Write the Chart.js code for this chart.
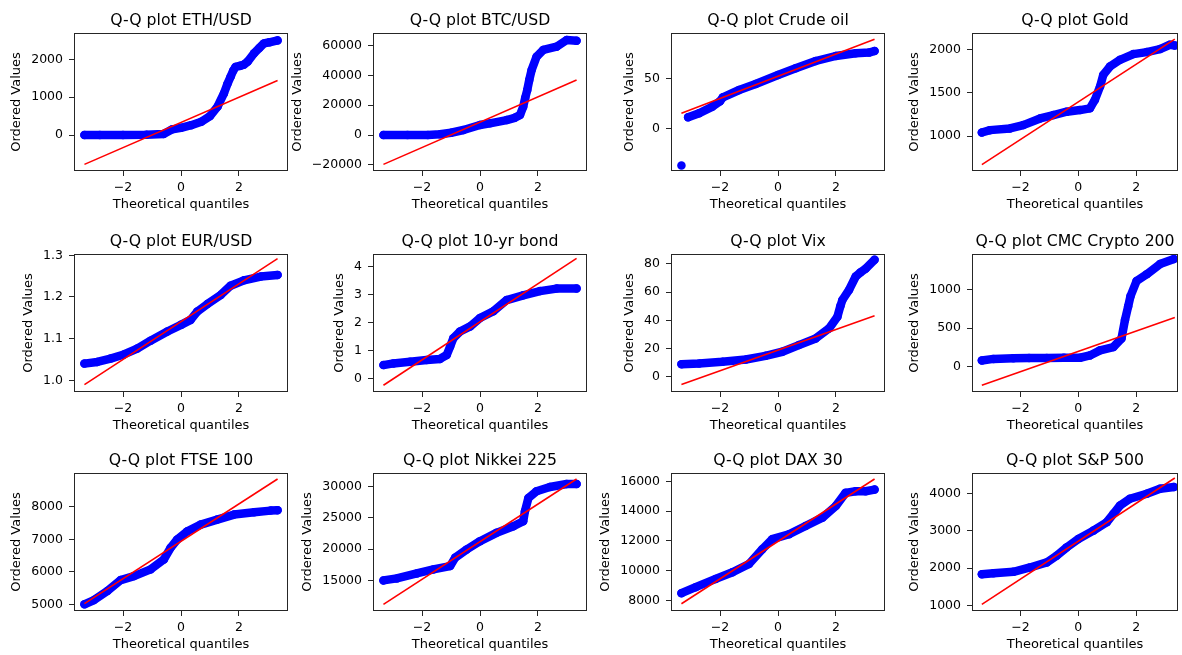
<!DOCTYPE html>
<html>
<head>
<meta charset="utf-8">
<title>Q-Q plots</title>
<script src="https://cdn.jsdelivr.net/npm/chart.js@4.4.1/dist/chart.umd.min.js"></script>
<style>
  html, body { margin: 0; padding: 0; background: #fff; }
  #fig { position: relative; width: 1182px; height: 655px; overflow: hidden; }
  #fig canvas { position: absolute; }
</style>
</head>
<body>
<div id="fig"></div>
<script>
// Titles, in grid order (row by row)
const names = ['ETH/USD', 'BTC/USD', 'Crude oil', 'Gold',
               'EUR/USD', '10-yr bond', 'Vix', 'CMC Crypto 200',
               'FTSE 100', 'Nikkei 225', 'DAX 30', 'S&P 500'];

// Theoretical quantiles (q) and ordered values (v)
const ethQ = [-3.33, -2.8, -2.0, -1.2, -0.6, -0.3, 0, 0.35, 0.7, 1.0, 1.26, 1.48, 1.6, 1.71, 1.8, 1.88, 2.05, 2.17, 2.3, 2.52, 2.7, 2.86, 3.05, 3.33];
const ethV = [0, 0, 0, 5, 30, 150, 190, 260, 350, 500, 750, 1100, 1350, 1540, 1700, 1800, 1830, 1860, 1940, 2160, 2300, 2420, 2450, 2500];

const btcQ = [-3.33, -2.5, -1.8, -1.38, -1.0, -0.57, 0, 0.34, 0.92, 1.2, 1.38, 1.49, 1.56, 1.63, 1.7, 1.78, 1.95, 2.18, 2.64, 2.99, 3.33];
const btcV = [0, 0, 0, 500, 1500, 3350, 6700, 7800, 10000, 11500, 13400, 19000, 25000, 30200, 37000, 43600, 52500, 57000, 59200, 63700, 63200];

const oilQ = [-3.33, -3.1, -2.72, -2.26, -2.0, -1.9, -1.34, -0.77, 0, 0.61, 1.3, 1.99, 2.68, 3.14, 3.33];
const oilV = [-37.3, 11, 15, 21.7, 27, 31, 38.3, 44.3, 53.3, 60, 67.3, 72.3, 75, 75.7, 77.3];

const goldQ = [-3.33, -3.05, -2.36, -1.9, -1.32, -0.86, -0.4, 0.06, 0.4, 0.57, 0.75, 0.86, 1.09, 1.44, 1.9, 2.36, 2.82, 3.16, 3.33];
const goldV = [1043, 1070, 1089, 1128, 1205, 1244, 1283, 1302, 1322, 1419, 1574, 1709, 1806, 1884, 1950, 1973, 2008, 2058, 2050];

const eurQ = [-3.33, -2.89, -2.43, -1.97, -1.51, -1.05, -0.47, 0, 0.33, 0.56, 0.91, 1.37, 1.71, 2.17, 2.75, 3.33];
const eurV = [1.040, 1.044, 1.052, 1.062, 1.076, 1.095, 1.117, 1.133, 1.145, 1.165, 1.183, 1.205, 1.227, 1.240, 1.249, 1.253];

const bondQ = [-3.33, -2.99, -2.41, -1.84, -1.38, -1.15, -1.03, -0.92, -0.69, -0.34, 0, 0.46, 0.92, 1.49, 2.07, 2.64, 3.33];
const bondV = [0.48, 0.54, 0.60, 0.66, 0.70, 0.84, 1.14, 1.44, 1.68, 1.86, 2.16, 2.40, 2.80, 2.97, 3.12, 3.21, 3.21];

const vixQ = [-3.33, -2.72, -1.92, -1.11, -0.43, 0.15, 0.72, 1.3, 1.76, 2.05, 2.15, 2.22, 2.45, 2.68, 2.85, 3.02, 3.33];
const vixV = [9.0, 9.5, 10.7, 12.3, 14.9, 17.8, 22.5, 27.2, 34.3, 42.6, 50, 54.4, 61.5, 71.0, 74, 76.4, 82.8];

const cmcQ = [-3.33, -2.93, -2.24, -1.7, -1.09, -0.5, 0.06, 0.4, 0.75, 1.21, 1.49, 1.61, 1.72, 1.8, 2.01, 2.36, 2.82, 3.3];
const cmcV = [80, 100, 110, 112, 112, 114, 115, 145, 211, 254, 364, 605, 781, 912, 1110, 1197, 1329, 1395];

const ftseQ = [-3.33, -3.0, -2.54, -2.08, -1.62, -1.05, -0.59, -0.36, -0.13, 0.22, 0.68, 1.25, 1.83, 2.52, 3.09, 3.33];
const ftseV = [5000, 5133, 5409, 5747, 5870, 6075, 6382, 6740, 6996, 7252, 7456, 7610, 7764, 7835, 7886, 7897];

const nikQ = [-3.33, -2.87, -2.18, -1.61, -1.03, -0.86, -0.46, 0, 0.57, 1.15, 1.49, 1.55, 1.67, 1.95, 2.41, 2.99, 3.33];
const nikV = [15000, 15318, 16113, 16749, 17279, 18604, 19929, 21254, 22579, 23639, 24434, 26024, 28144, 29204, 29893, 30370, 30370];

const daxQ = [-3.33, -2.84, -2.15, -1.57, -1.0, -0.54, -0.2, 0.38, 0.95, 1.53, 1.99, 2.33, 2.68, 3.02, 3.33];
const daxV = [8489, 8889, 9444, 9889, 10444, 11444, 12111, 12444, 13000, 13556, 14333, 15222, 15333, 15333, 15444];

const spxQ = [-3.33, -2.93, -2.24, -1.67, -1.09, -0.75, -0.4, 0, 0.52, 0.98, 1.21, 1.44, 1.78, 2.36, 2.82, 3.3];
const spxV = [1838, 1865, 1901, 2018, 2153, 2333, 2559, 2784, 3009, 3234, 3460, 3685, 3865, 4000, 4135, 4181];

// Fitted line: value at the first and last theoretical quantile
const fitQ = [-3.33, 3.33];
const fitV = [[-775, 1440], [-19700, 36900], [15, 89], [671, 2124],
              [0.9895, 1.292], [-0.24, 4.29], [-5.4, 43.3], [-241, 636],
              [5020, 8859], [11184, 31165], [7778, 16155], [1027, 4424]];

// Axis limits and tick labels
const yRanges = [[-950, 2695], [-24137, 68390], [-42.7, 95.3], [597, 2194],
                 [0.9718, 1.3032], [-0.48, 4.444], [-10.65, 86.9], [-329, 1460],
                 [4795, 9044], [10124, 32120], [7289, 16556], [847, 4559]];
const yTicks = [['0', '1000', '2000'], ['−20000', '0', '20000', '40000', '60000'], ['0', '50'], ['1000', '1500', '2000'],
                ['1.0', '1.1', '1.2', '1.3'], ['0', '1', '2', '3', '4'], ['0', '20', '40', '60', '80'], ['0', '500', '1000'],
                ['5000', '6000', '7000', '8000'], ['15000', '20000', '25000', '30000'], ['8000', '10000', '12000', '14000', '16000'], ['1000', '2000', '3000', '4000']];
const xTicks = ['−2', '0', '2'];
const xRanges = [[-3.69, 3.69], [-3.69, 3.69], [-3.69, 3.69], [-3.67, 3.44]];

const qs = [ethQ, btcQ, oilQ, goldQ, eurQ, bondQ, vixQ, cmcQ, ftseQ, nikQ, daxQ, spxQ];
const vs = [ethV, btcV, oilV, goldV, eurV, bondV, vixV, cmcV, ftseV, nikV, daxV, spxV];

// layout of the grid (page pixels)
const colLeft = [74, 373, 671, 972];
const colWidth = [214, 214, 214, 206];
const rowTop = [33, 254, 473];
const PLOT_H = 138;
const AXW = 90;      // room left of the plot box for tick labels + y title
const TOP = 33;      // title band
const BOTTOM = 46;   // x tick labels + x title
const RIGHT = 8;

const BLUE = '#0000ff';
const RED = '#ff0000';
const INK = '#262626';
const TICK_FONT = 12.5;

Chart.defaults.font.family = '"DejaVu Sans", sans-serif';
Chart.defaults.color = '#000';

const num = s => Number(s.replace('−', '-'));

// full box around the axes, like matplotlib spines
const frame = {
  id: 'frame',
  afterDatasetsDraw(chart) {
    const { ctx, chartArea: a } = chart;
    ctx.save();
    ctx.strokeStyle = INK;
    ctx.lineWidth = 1;
    ctx.strokeRect(Math.round(a.left) + 0.5, Math.round(a.top) + 0.5,
                   Math.round(a.width) - 1, Math.round(a.height) - 1);
    ctx.restore();
  }
};

const measure = document.createElement('canvas').getContext('2d');
measure.font = TICK_FONT + 'px "DejaVu Sans"';

const fig = document.getElementById('fig');

names.forEach((name, i) => {
  const row = Math.floor(i / 4), col = i % 4;
  const canvas = document.createElement('canvas');
  canvas.width = AXW + colWidth[col] + RIGHT;
  canvas.height = TOP + PLOT_H + BOTTOM;
  canvas.style.left = (colLeft[col] - AXW) + 'px';
  canvas.style.top = (rowTop[row] - TOP) + 'px';
  fig.appendChild(canvas);

  const labels = yTicks[i];
  const labelW = Math.max(...labels.map(t => measure.measureText(t).width));
  // ylabel sits just left of the widest tick label
  const yTitlePad = Math.max(0, AXW - 11 - labelW - 14.5 - 7.8);

  const points = qs[i].map((q, k) => ({ x: q, y: vs[i][k] }));

  new Chart(canvas, {
    type: 'scatter',
    data: {
      datasets: [
        {
          data: fitQ.map((q, k) => ({ x: q, y: fitV[i][k] })),
          showLine: true,
          borderColor: RED,
          borderWidth: 1.6,
          pointRadius: 0,
          order: 0
        },
        {
          data: points,
          showLine: true,
          borderColor: BLUE,
          borderWidth: 8.5,
          borderCapStyle: 'round',
          borderJoinStyle: 'round',
          pointRadius: 4.25,
          pointBorderWidth: 0,
          pointBackgroundColor: BLUE,
          segment: {
            // isolated outliers stay separate dots
            borderColor: c => Math.hypot(c.p1.x - c.p0.x, c.p1.y - c.p0.y) > 40 ? 'rgba(0,0,0,0)' : BLUE
          },
          order: 1
        }
      ]
    },
    options: {
      responsive: false,
      animation: false,
      devicePixelRatio: 1,
      layout: { padding: { left: 0, right: RIGHT, top: 0, bottom: 0 } },
      plugins: {
        legend: { display: false },
        tooltip: { enabled: false },
        title: {
          display: true,
          text: 'Q-Q plot ' + name,
          fullSize: false,
          color: '#000',
          font: { size: 15.7, weight: 'normal' },
          padding: { top: 11.1, bottom: 3.06 }
        }
      },
      scales: {
        x: {
          type: 'linear',
          min: xRanges[col][0],
          max: xRanges[col][1],
          afterFit: s => { s.height = BOTTOM; },
          afterBuildTicks: s => { s.ticks = xTicks.map(t => ({ value: num(t) })); },
          ticks: {
            autoSkip: false, maxRotation: 0, padding: 4,
            font: { size: TICK_FONT },
            callback: (v, k) => xTicks[k]
          },
          grid: { drawOnChartArea: false, tickLength: 5, color: INK },
          border: { display: false },
          title: {
            display: true,
            text: 'Theoretical quantiles',
            font: { size: 13 },
            padding: { top: 0, bottom: 5 }
          }
        },
        y: {
          type: 'linear',
          min: yRanges[i][0],
          max: yRanges[i][1],
          afterFit: s => { s.width = AXW; },
          afterBuildTicks: s => { s.ticks = labels.map(t => ({ value: num(t) })); },
          ticks: {
            autoSkip: false, padding: 6,
            font: { size: TICK_FONT },
            callback: (v, k) => labels[k]
          },
          grid: { drawOnChartArea: false, tickLength: 5, color: INK },
          border: { display: false },
          title: {
            display: true,
            text: 'Ordered Values',
            font: { size: 13 },
            padding: { top: yTitlePad, bottom: 0 }
          }
        }
      }
    },
    plugins: [frame]
  });
});
</script>
</body>
</html>
